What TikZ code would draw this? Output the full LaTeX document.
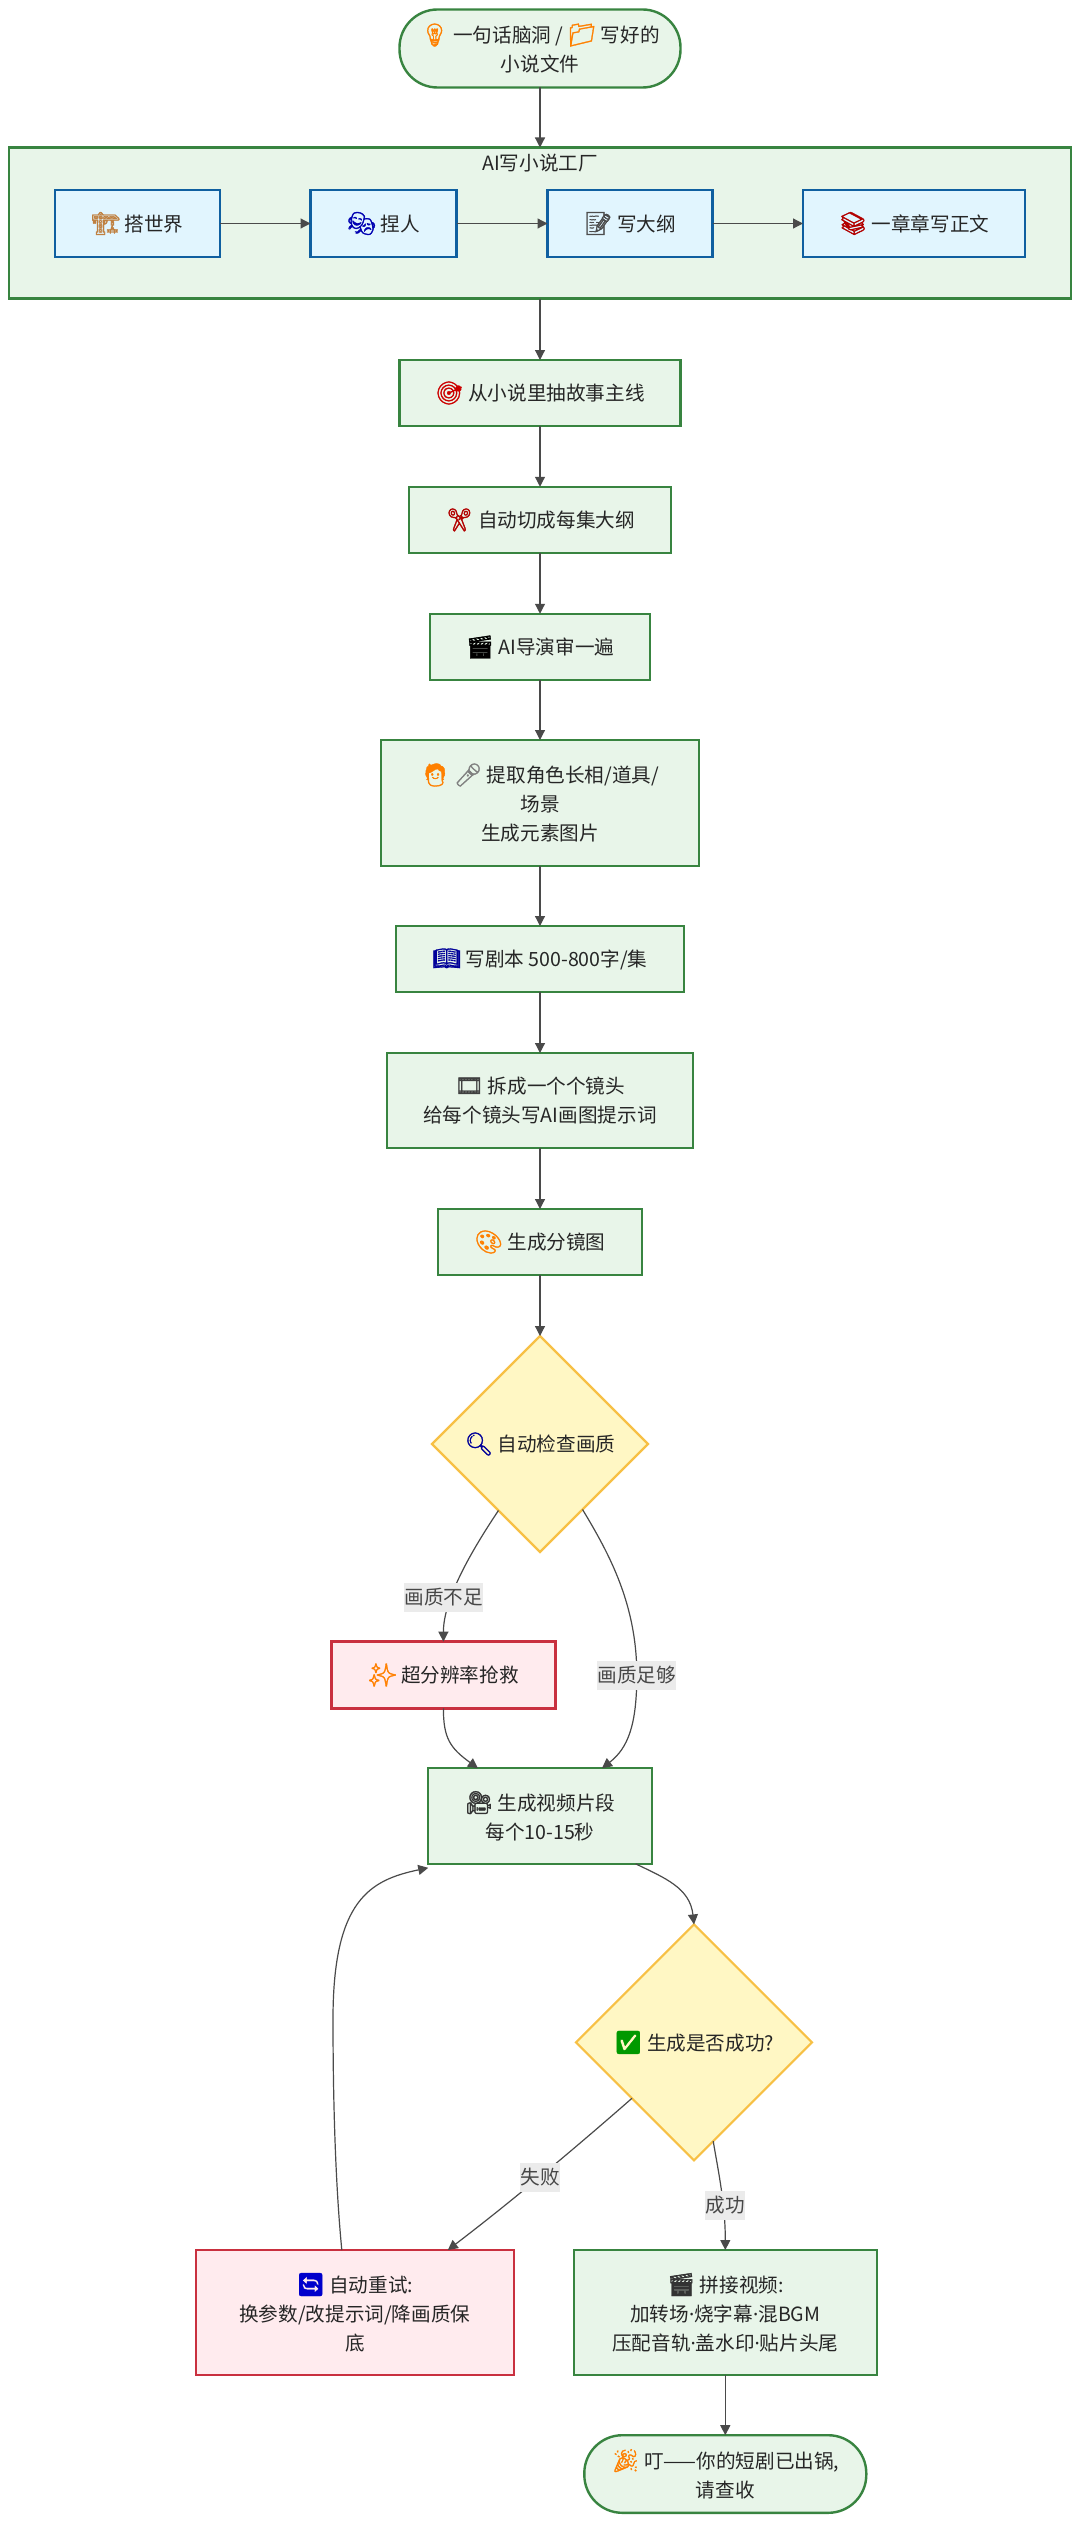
\documentclass[tikz,border=0pt]{standalone}
\usepackage{fontspec}
\setmainfont{Noto Sans CJK SC}
\newfontfamily\emojifont[FakeBold=1.6,Scale=1.15]{Noto Emoji}
\newfontfamily\dotfont{Noto Sans}
\usetikzlibrary{arrows.meta,shapes.geometric,calc}
\definecolor{fillgreen}{HTML}{E8F5E9}
\definecolor{linegreen}{HTML}{388440}
\definecolor{fillblue}{HTML}{E1F5FE}
\definecolor{lineblue}{HTML}{0F5FA0}
\definecolor{fillred}{HTML}{FFEBEE}
\definecolor{linered}{HTML}{C9303F}
\definecolor{fillyellow}{HTML}{FFF7C4}
\definecolor{lineyellow}{HTML}{F7C045}
\definecolor{wiregray}{HTML}{4A4A4A}
\definecolor{labelgray}{HTML}{EBEBEB}
\newcommand{\emo}[2]{{\emojifont\textcolor{#1}{#2}}}
\newcommand{\mdot}{{\dotfont ·}}
\tikzstyle{basebox}=[rectangle,inner sep=0pt,outer sep=0pt,align=center,text=black!85,font=\fontsize{19.6}{29}\selectfont]
\tikzstyle{greenbox}=[basebox,draw=linegreen,fill=fillgreen,line width=2.4pt]
\tikzstyle{bluebox}=[basebox,draw=lineblue,fill=fillblue,line width=2.4pt]
\tikzstyle{redbox}=[basebox,draw=linered,fill=fillred,line width=2.4pt]
\tikzstyle{pillbox}=[greenbox,rounded corners=38pt]
\tikzstyle{checkbox}=[basebox,diamond,aspect=1,draw=lineyellow,fill=fillyellow,line width=2.2pt]
\tikzstyle{wire}=[draw=wiregray,line width=1.2pt,-{Triangle[length=10pt,width=10pt]}]
\tikzstyle{edgelabel}=[inner xsep=0.5pt,inner ysep=0pt,outer sep=0pt,minimum height=29,fill=labelgray,text=black!72,font=\fontsize{19.6}{24}\selectfont]

\begin{document}
\begin{tikzpicture}[x=1pt,y=-1pt]

      % fixes the page to the size of the reference
      \useasboundingbox (0,0) rectangle (1080,2523);
      \def\midx{540} % main column of the flow
      \def\endx{725.3} % column below the second check

      % Draw the factory group first so it stays behind its steps
      \node[greenbox,minimum width=1062,minimum height=151] at (\midx,223) (factory) {};
      \node[inner sep=0pt,text=black!85,font=\fontsize{19.6}{24}\selectfont] at (\midx,163) (factorytitle) {AI写小说工厂};

      % Draw the steps
      \node[pillbox,minimum width=281,minimum height=78] at (\midx,48.5) (idea) {\emo{orange}{💡} 一句话脑洞 / \emo{orange}{📁} 写好的\\小说文件};
      % steps inside the factory
      \node[bluebox,minimum width=165,minimum height=67] at (137.5,223.5) (world) {\emo{brown}{🏗} 搭世界};
      \node[bluebox,minimum width=146,minimum height=67] at (383.5,223.5) (people) {\emo{blue!70!black}{🎭} 捏人};
      \node[bluebox,minimum width=165,minimum height=67] at (630,223.5) (outline) {\emo{black!70}{📝} 写大纲};
      \node[bluebox,minimum width=222,minimum height=67] at (914,223.5) (chapters) {\emo{red!70!black}{📚} 一章章写正文};
      % main column
      \node[greenbox,minimum width=281,minimum height=66] at (\midx,393) (story) {\emo{red!80!black}{🎯} 从小说里抽故事主线};
      \node[greenbox,minimum width=262,minimum height=66.5] at (\midx,520) (cut) {\emo{red!70!black}{✂} 自动切成每集大纲};
      \node[greenbox,minimum width=220,minimum height=66.5] at (\midx,647) (director) {\emo{black}{🎬} AI导演审一遍};
      \node[greenbox,minimum width=318,minimum height=126] at (\midx,803) (extract) {\emo{orange}{🧑} \emo{gray}{🎤} 提取角色长相/道具/\\场景\\生成元素图片};
      \node[greenbox,minimum width=288,minimum height=66] at (\midx,959) (script) {\emo{blue!60!black}{📖} 写剧本 500-800字/集};
      \node[greenbox,minimum width=306,minimum height=95] at (\midx,1100.5) (shots) {\emo{black!75}{🎞} 拆成一个个镜头\\给每个镜头写AI画图提示词};
      \node[greenbox,minimum width=204,minimum height=66] at (\midx,1242) (frames) {\emo{orange}{🎨} 生成分镜图};
      \node[checkbox,minimum width=216,minimum height=216] at (\midx,1444) (quality) {\emo{blue!60!black}{🔍} 自动检查画质};
      \node[redbox,minimum width=224,minimum height=66.7] at (443.4,1675) (rescue) {\emo{orange}{✨} 超分辨率抢救};
      \node[greenbox,minimum width=223.5,minimum height=95.6] at (\midx,1816) (video) {\emo{black!80}{🎥} 生成视频片段\\每个10-15秒};
      \node[checkbox,minimum width=236,minimum height=236] at (694,2042.4) (done) {\emo{green!60!black}{✅} 生成是否成功?};
      \node[redbox,minimum width=318,minimum height=125] at (354.8,2312.5) (retry) {\emo{blue!80!black}{🔄} 自动重试:\\换参数/改提示词/降画质保\\底};
      \node[greenbox,minimum width=303,minimum height=125] at (\endx,2312.5) (concat) {\emo{black!80}{🎬} 拼接视频:\\加转场\mdot 烧字幕\mdot 混BGM\\压配音轨\mdot 盖水印\mdot 贴片头尾};
      \node[pillbox,minimum width=282,minimum height=77.6] at (\endx,2474) (finish) {\emo{orange}{🎉} 叮——你的短剧已出锅,\\请查收};

      % Draw the wires
      % main column going down
      \draw[wire] (idea.south) -- (factory.north);
      \draw[wire] (factory.south) -- (story.north);
      \draw[wire] (story.south) -- (cut.north);
      \draw[wire] (cut.south) -- (director.north);
      \draw[wire] (director.south) -- (extract.north);
      \draw[wire] (extract.south) -- (script.north);
      \draw[wire] (script.south) -- (shots.north);
      \draw[wire] (shots.south) -- (frames.north);
      \draw[wire] (frames.south) -- (quality.north);
      % inside the factory
      \draw[wire] (world.east) -- (people.west);
      \draw[wire] (people.east) -- (outline.west);
      \draw[wire] (outline.east) -- (chapters.west);
      % branches of the first check
      \draw[wire] (quality.-122.8) .. controls (470,1553) and (443.4,1600) .. (rescue.north);
      \draw[wire] (rescue.south) .. controls (443.4,1738) and (450,1748) .. ([xshift=-62]video.north);
      \draw[wire] (quality.-57.6) .. controls (610,1555) and (636.8,1605) .. (636.8,1675) .. controls (636.8,1725) and (628,1748) .. ([xshift=62]video.north);
      % second check and the way back
      \draw[wire] ([xshift=95.6]video.south) .. controls (665,1878) and (690,1888) .. (done.north);
      \draw[wire] (done.-138.6) .. controls (590,2135) and (520,2195) .. ([xshift=93]retry.north);
      \draw[wire] (done.-79.3) .. controls (719,2175) and (\endx,2205) .. (concat.north);
      \draw[wire] ([xshift=-13]retry.north) .. controls (336,2190) and (333,2110) .. (333,2019) .. controls (333,1900) and (370,1880) .. ([yshift=-4]video.south west);
      \draw[wire] (concat.south) -- (finish.north);

      % Insert labels on the branches
      \node[edgelabel] at (443.7,1597) (lowlabel) {画质不足};
      \node[edgelabel] at (636.7,1675) (oklabel) {画质足够};
      \node[edgelabel] at (540,2177.5) (faillabel) {失败};
      \node[edgelabel] at (725.3,2205) (passlabel) {成功};

   \end{tikzpicture}
\end{document}
